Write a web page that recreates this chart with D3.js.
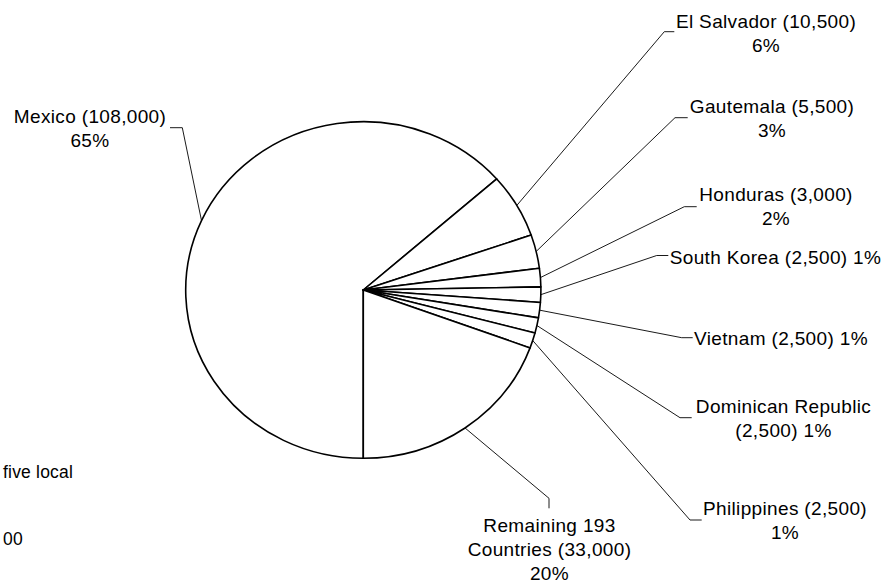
<!DOCTYPE html>
<html>
<head>
<meta charset="utf-8">
<script src="https://cdn.jsdelivr.net/npm/d3@7/dist/d3.min.js"></script>
<style>
  html, body { margin: 0; padding: 0; background: #ffffff; }
  svg { display: block; }
  text { font-family: "Liberation Sans", Arial, Helvetica, sans-serif; fill: #000; }
</style>
</head>
<body>
<svg id="chart" width="891" height="584"></svg>
<script>
// ---- data ----
const categories = ["Mexico", "El Salvador", "Gautemala", "Honduras", "South Korea",
                    "Vietnam", "Dominican Republic", "Philippines", "Remaining 193 Countries"];
const values = [108000, 10500, 5500, 3000, 2500, 2500, 2500, 2500, 33000];
const percentLabels = ["65%", "6%", "3%", "2%", "1%", "1%", "1%", "1%", "20%"];
// how each label is split into lines
const labelText = [
  ["Mexico (108,000)", "65%"],
  ["El Salvador (10,500)", "6%"],
  ["Gautemala (5,500)", "3%"],
  ["Honduras (3,000)", "2%"],
  ["South Korea (2,500) 1%"],
  ["Vietnam (2,500) 1%"],
  ["Dominican Republic", "(2,500) 1%"],
  ["Philippines (2,500)", "1%"],
  ["Remaining 193", "Countries (33,000)", "20%"]
];
// stray (clipped) note fragments at left edge
const noteFragments = ["five local", "00"];

// ---- layout ----
const cx = 363.3, cy = 290, rx = 177.6, ry = 168.3;
const fontSize = 19, lineH = 24;
const labelLayout = [
  {x: 90,    y: 123.3, elbow: [182.3, 127.7], end: [170, 127.7]},
  {x: 766,   y: 27.7,  elbow: [664.3, 31.7],  end: [674.3, 31.7]},
  {x: 772,   y: 112.7, elbow: [675, 117.7],   end: [687.7, 117.7]},
  {x: 776,   y: 200.8, elbow: [684.3, 206.7], end: [696.7, 206.7]},
  {x: 775.5, y: 263.8, elbow: [656.7, 255.5], end: [668.3, 255.5]},
  {x: 781,   y: 345,   elbow: [681.7, 337.7], end: [692.7, 337.7]},
  {x: 783.5, y: 413.3, elbow: [680, 417.7],   end: [691.7, 417.7]},
  {x: 785,   y: 515,   elbow: [690, 520],     end: [701.7, 520]},
  {x: 549.5, y: 531.7, elbow: [549, 498.3],   end: [549, 508.3]}
];

const svg = d3.select("#chart");

const pie = d3.pie().sort(null).value(d => d)
  .startAngle(Math.PI).endAngle(3 * Math.PI);
const arcs = pie(values);
const arc = d3.arc().innerRadius(0).outerRadius(rx);

const g = svg.append("g")
  .attr("transform", `translate(${cx},${cy}) scale(1,${ry / rx})`);

g.selectAll("path.slice")
  .data(arcs)
  .join("path")
  .attr("class", "slice")
  .attr("d", arc)
  .attr("fill", "#ffffff")
  .attr("stroke", "#000")
  .attr("stroke-width", 1.6)
  .attr("stroke-linejoin", "round")
  .attr("vector-effect", "non-scaling-stroke");

// leader lines
const leaders = svg.append("g");
arcs.forEach((a, i) => {
  const m = (a.startAngle + a.endAngle) / 2;
  const px = cx + rx * Math.sin(m);
  const py = cy - ry * Math.cos(m);
  const L = labelLayout[i];
  leaders.append("polyline")
    .attr("points", [[px, py], L.elbow, L.end].map(p => p.join(",")).join(" "))
    .attr("fill", "none")
    .attr("stroke", "#000")
    .attr("stroke-width", 0.9);
});

// labels
const labels = svg.append("g");
labelText.forEach((lines, i) => {
  const L = labelLayout[i];
  const t = labels.append("text")
    .attr("text-anchor", "middle")
    .attr("font-size", fontSize)
    .attr("letter-spacing", 0.35);
  lines.forEach((ln, k) => {
    t.append("tspan").attr("x", L.x).attr("y", L.y + k * lineH).text(ln);
  });
});

// clipped note fragments
const noteY = [477.5, 545];
noteFragments.forEach((s, i) => {
  svg.append("text")
    .attr("x", 3).attr("y", noteY[i])
    .attr("font-size", 17.5)
    .attr("letter-spacing", 0.2)
    .text(s);
});
</script>
</body>
</html>
